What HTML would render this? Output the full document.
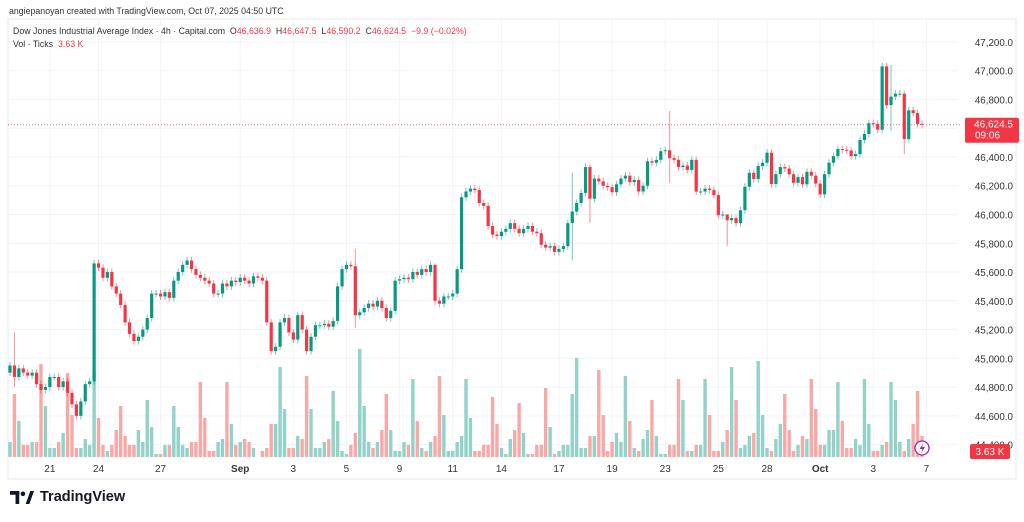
<!DOCTYPE html>
<html><head><meta charset="utf-8">
<style>
body{margin:0;background:#fff;font-family:"Liberation Sans",sans-serif;}
#wrap{position:relative;width:1024px;height:522px;overflow:hidden;background:#fff}
.t{position:absolute;white-space:nowrap;color:#131722}
.r{color:#f23645}
</style></head>
<body>
<div id="wrap">
<svg id="chart" width="1024" height="522" style="position:absolute;left:0;top:0"></svg>
<div class="t" style="left:9px;top:6px;font-size:8.8px;color:#333">angiepanoyan created with TradingView.com, Oct 07, 2025 04:50 UTC</div>
<div class="t" style="left:13px;top:26px;font-size:8.8px;color:#333;background:rgba(255,255,255,0.7)">Dow Jones Industrial Average Index · 4h · Capital.com &nbsp;O<span class="r">46,636.9</span> &nbsp;H<span class="r">46,647.5</span> &nbsp;L<span class="r">46,590.2</span> &nbsp;C<span class="r">46,624.5</span> &nbsp;<span class="r">−9.9 (−0.02%)</span></div>
<div class="t" style="left:13px;top:39px;font-size:8.8px;color:#333;background:rgba(255,255,255,0.7)">Vol · Ticks &nbsp;<span class="r">3.63 K</span></div>
<div class="t" style="left:10px;top:489px;font-size:14.5px;font-weight:bold;display:flex;align-items:center">
<svg width="24" height="13" viewBox="0 0 26 14" style="margin-right:6px"><rect x="0" y="0" width="10" height="4" fill="#131722"/><rect x="6" y="0" width="4" height="14" fill="#131722"/><circle cx="14" cy="3" r="2.5" fill="#131722"/><polygon points="17,14 22,0 26,0 21,14" fill="#131722"/></svg>TradingView</div>
</div>
<script>
const closes=[44950,44870,44930,44900,44880,44900,44820,44780,44800,44870,
44870,44800,44840,44760,44680,44600,44700,44820,44840,45660,
45630,45560,45600,45500,45450,45370,45250,45170,45120,45150,
45200,45280,45450,45450,45430,45460,45420,45540,45600,45650,
45680,45620,45580,45560,45540,45520,45450,45450,45520,45500,
45540,45530,45560,45540,45520,45570,45560,45540,45250,45050,
45080,45250,45280,45180,45130,45300,45200,45050,45150,45230,
45230,45240,45220,45260,45500,45620,45650,45640,45300,45320,
45350,45380,45360,45400,45350,45280,45330,45540,45550,45560,
45550,45600,45580,45620,45600,45650,45400,45380,45430,45430,
45450,45620,46120,46160,46180,46170,46080,46060,45920,45860,
45850,45880,45900,45940,45900,45870,45900,45920,45880,45870,
45790,45770,45780,45740,45760,45780,45940,46020,46080,46150,
46330,46110,46250,46230,46200,46190,46155,46210,46250,46270,
46225,46240,46160,46200,46370,46360,46380,46440,
46447,46392,46380,46330,46340,46310,46380,46159,46160,46180,46170,46135,45995,46000,45960,45975,45940,46030,46193,46290,46247,46337,46360,46430,46212,46281,46330,46320,46280,46220,46260,46210,46297,46270,46215,46140,46280,46360,46406,46455,46450,46445,46406,46420,46518,46560,46635,46630,46590,47030,46760,46820,46840,46840,46525,46725,46705,46630,46624.5];
const firstOpen=44900;
const wicks={1:[45180,44800],78:[45760,45210],96:[45660,45370],127:[46290,45680],131:[46350,45940],149:[46720,46220],162:[46000,45780],199:[47040,46580],202:[46860,46420]};
const volumes=[5,21,12,4,4,5,5,31,17,3,3,5,8,28,14,3,3,6,4,28,13,4,2,4,9,17,7,4,4,9,5,19,10,1,1,4,4,17,10,4,
3,5,5,25,13,2,2,5,6,25,11,4,5,6,5,3,0,2,3,11,11,30,16,3,3,7,6,27,16,3,3,5,6,22,12,2,1,4,
8,36,17,5,3,5,9,21,9,2,2,5,4,26,12,3,2,5,7,27,14,2,2,5,7,26,13,2,2,4,4,20,11,3,1,6,9,18,8,
1,1,4,4,23,10,1,2,4,4,21,33,3,3,7,7,29,14,2,5,8,5,27,12,3,2,6,9,19,7,1,1,4,4,26,19,2,2,4,
4,26,14,2,2,5,9,30,19,3,4,7,8,32,14,3,2,6,11,21,9,2,4,7,6,26,16,4,4,9,9,25,12,3,3,6,4,26,11,2,2,4,5,25,19,5,2,6,11,22,7,2,1];
const priceTicks=[44400,44600,44800,45000,45200,45400,45600,45800,46000,46200,46400,46600,46800,47000,47200];
const dateLabels=["21","24","27","Sep","3","5","9","11","14","17","19","23","25","28","Oct","3","7"];
const dateBars=[9,20,34,52,64,76,88,100,111,124,136,148,160,171,183,195,207];

const svg=document.getElementById('chart');
const NS='http://www.w3.org/2000/svg';
function el(tag,attrs){const e=document.createElementNS(NS,tag);for(const k in attrs)e.setAttribute(k,attrs[k]);svg.appendChild(e);return e;}
const yP=p=>70.7+(47000-p)*0.1438;
const N=closes.length;
const xB=i=>10+i*(912/(N-1));
const yV=v=>457-v*3;
const plotR=958;

let f=el('rect',{x:8,y:19,width:1008,height:460,fill:'none',stroke:'#e6e8ee'});

priceTicks.forEach(p=>{const y=yP(p);
 let g=el('line',{x1:8,x2:plotR,y1:y,y2:y,stroke:'#f0f3fa'});
 
 let t=el('text',{x:1013,y:y+4,'text-anchor':'end','font-size':'9.8','fill':'#333','font-family':'Liberation Sans,sans-serif'});t.textContent=p.toLocaleString('en-US')+'.0';
 
});
dateLabels.forEach((d,k)=>{const x=xB(dateBars[k]);
 let g=el('line',{x1:x,x2:x,y1:20,y2:458,stroke:'#f0f3fa'});
 
 let t=el('text',{x:x,y:472,'text-anchor':'middle','font-size':'10','fill':'#333','font-weight':(d==='Sep'||d==='Oct')?'bold':'normal','font-family':'Liberation Sans,sans-serif'});t.textContent=d;
 
});
for(let i=0;i<N;i++){const o=i?closes[i-1]:firstOpen;const up=closes[i]>=o;const v=volumes[i]||0;
 let r=el('rect',{x:xB(i)-1.7,y:yV(v),width:3.4,height:457-yV(v),fill:up?'#92d2c8':'#f7a9a7'});
 }
for(let i=0;i<N;i++){const o=i?closes[i-1]:firstOpen,c=closes[i];const up=c>=o;const col=up?'#089981':'#f23645';
 const w=wicks[i];const hi=w?w[0]:Math.max(o,c)+25,lo=w?w[1]:Math.min(o,c)-25;
 const x=xB(i);
 let l=el('line',{x1:x,x2:x,y1:yP(hi),y2:yP(lo),stroke:col,'stroke-opacity':0.55});
 
 const top=yP(Math.max(o,c)),bot=yP(Math.min(o,c));
 let r=el('rect',{x:x-1.6,y:top,width:3.2,height:Math.max(1,bot-top),fill:col});
 }
const lp=closes[N-1],ly=yP(lp);
let pl=el('line',{x1:8,x2:962,y1:ly,y2:ly,stroke:'#f23645','stroke-dasharray':'1 2','stroke-width':1,'stroke-opacity':0.7});

let bx=el('rect',{x:965,y:ly-7,width:54,height:25,fill:'#f23645',rx:2});

let t1=el('text',{x:1013,y:ly+3,'text-anchor':'end','font-size':'10',fill:'#fff','font-family':'Liberation Sans,sans-serif'});t1.textContent='46,624.5';

let t2=el('text',{x:975,y:ly+14,'font-size':'10',fill:'#fff','font-family':'Liberation Sans,sans-serif'});t2.textContent='09:06';

let vb=el('rect',{x:970,y:444,width:40,height:15,fill:'#f23645',rx:2});

let vt=el('text',{x:990,y:455,'text-anchor':'middle','font-size':'10',fill:'#fff','font-family':'Liberation Sans,sans-serif'});vt.textContent='3.63 K';

let ci=el('circle',{cx:922,cy:448,r:7,fill:'#fff',stroke:'#9c27b0','stroke-width':1.3});

let bolt=el('path',{d:'M923.5 443 L919.5 449 L922.5 449 L921 453.5 L925 447 L922 447 Z',fill:'#9c27b0'});

</script>
</body></html>
